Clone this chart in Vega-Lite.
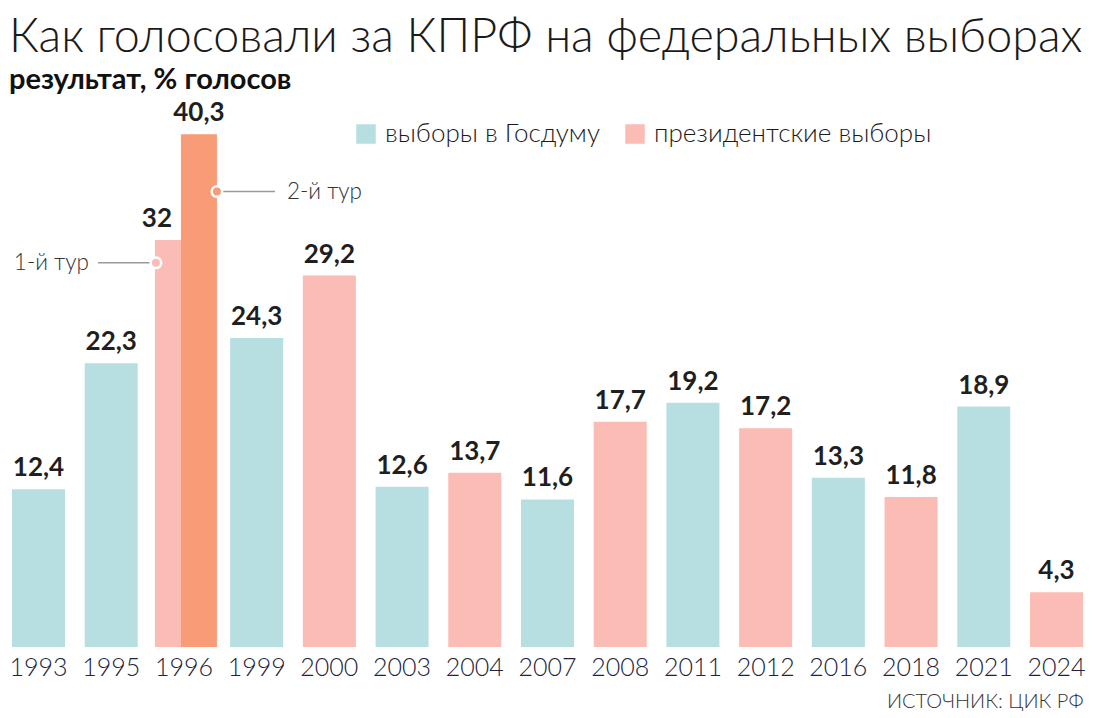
{
  "$schema": "https://vega.github.io/schema/vega-lite/v6.json",
  "autosize": {"type": "none"},
  "width": 1071,
  "height": 547,
  "padding": {"left": 12, "top": 100, "right": 11, "bottom": 71},
  "title": {
    "text": "Как голосовали за КПРФ на федеральных выборах",
    "subtitle": "результат, % голосов",
    "anchor": "start",
    "font": "Lato",
    "fontSize": 46.7,
    "fontWeight": 300,
    "color": "#1a1a1a",
    "subtitleFont": "Lato",
    "subtitleFontSize": 29,
    "subtitleFontWeight": "bold",
    "subtitleColor": "#111111",
    "offset": 5,
    "subtitlePadding": 4
  },
  "data": {
    "values": [
      {"year": "1993", "value": 12.4, "type": "выборы в Госдуму", "tur": 0},
      {"year": "1995", "value": 22.3, "type": "выборы в Госдуму", "tur": 0},
      {"year": "1996", "value": 32, "type": "президентские выборы", "tur": 1},
      {"year": "1996", "value": 40.3, "type": "президентские выборы", "tur": 2},
      {"year": "1999", "value": 24.3, "type": "выборы в Госдуму", "tur": 0},
      {"year": "2000", "value": 29.2, "type": "президентские выборы", "tur": 0},
      {"year": "2003", "value": 12.6, "type": "выборы в Госдуму", "tur": 0},
      {"year": "2004", "value": 13.7, "type": "президентские выборы", "tur": 0},
      {"year": "2007", "value": 11.6, "type": "выборы в Госдуму", "tur": 0},
      {"year": "2008", "value": 17.7, "type": "президентские выборы", "tur": 0},
      {"year": "2011", "value": 19.2, "type": "выборы в Госдуму", "tur": 0},
      {"year": "2012", "value": 17.2, "type": "президентские выборы", "tur": 0},
      {"year": "2016", "value": 13.3, "type": "выборы в Госдуму", "tur": 0},
      {"year": "2018", "value": 11.8, "type": "президентские выборы", "tur": 0},
      {"year": "2021", "value": 18.9, "type": "выборы в Госдуму", "tur": 0},
      {"year": "2024", "value": 4.3, "type": "президентские выборы", "tur": 0}
    ]
  },
  "encoding": {
    "x": {
      "field": "year",
      "type": "ordinal",
      "scale": {
        "domain": ["1993", "1995", "1996", "1999", "2000", "2003", "2004", "2007", "2008", "2011", "2012", "2016", "2018", "2021", "2024"],
        "paddingInner": 0.271,
        "paddingOuter": 0
      },
      "axis": {
        "title": "ИСТОЧНИК: ЦИК РФ",
        "titleAnchor": "end",
        "titleFont": "Lato",
        "titleFontSize": 20,
        "titleFontWeight": 300,
        "titleColor": "#333333",
        "titlePadding": 11,
        "labelAngle": 0,
        "labelFont": "Lato",
        "labelFontSize": 25,
        "labelFontWeight": 300,
        "labelColor": "#22223a",
        "labelPadding": 8,
        "domain": false,
        "ticks": false
      }
    },
    "y": {
      "field": "value",
      "type": "quantitative",
      "scale": {"domain": [0, 43]},
      "axis": null
    }
  },
  "layer": [
    {
      "transform": [{"filter": "datum.tur == 0"}],
      "mark": {"type": "bar"},
      "encoding": {
        "color": {
          "field": "type",
          "type": "nominal",
          "scale": {
            "domain": ["выборы в Госдуму", "президентские выборы"],
            "range": ["#b7dfe1", "#fbbcb5"]
          },
          "legend": {
            "title": null,
            "orient": "none",
            "direction": "horizontal",
            "legendX": 341,
            "legendY": 21,
            "padding": 0,
            "symbolType": "square",
            "symbolSize": 380,
            "symbolStrokeWidth": 0,
            "symbolOpacity": 1,
            "labelFont": "Lato",
            "labelFontSize": 26,
            "labelFontWeight": 300,
            "labelColor": "#1a1a1a",
            "labelOffset": 6,
            "labelLimit": 0,
            "columnPadding": 22
          }
        }
      }
    },
    {
      "transform": [{"filter": "datum.tur == 1"}],
      "mark": {"type": "bar", "width": 26, "xOffset": -16, "color": "#fbbcb5"}
    },
    {
      "transform": [{"filter": "datum.tur == 2"}],
      "mark": {"type": "bar", "width": 36, "xOffset": 15, "color": "#f89b77"}
    },
    {
      "transform": [{"filter": "datum.tur == 0"}],
      "mark": {"type": "text", "baseline": "bottom", "dy": -8, "font": "Lato", "fontSize": 26, "fontWeight": "bold", "color": "#1f1f1f"},
      "encoding": {"text": {"field": "value", "type": "quantitative", "format": ".1~f"}}
    },
    {
      "transform": [{"filter": "datum.tur == 1"}],
      "mark": {"type": "text", "baseline": "bottom", "dy": -8, "xOffset": -27, "font": "Lato", "fontSize": 26, "fontWeight": "bold", "color": "#1f1f1f"},
      "encoding": {"text": {"field": "value", "type": "quantitative", "format": ".1~f"}}
    },
    {
      "transform": [{"filter": "datum.tur == 2"}],
      "mark": {"type": "text", "baseline": "bottom", "dy": -8, "xOffset": 15, "font": "Lato", "fontSize": 26, "fontWeight": "bold", "color": "#1f1f1f"},
      "encoding": {"text": {"field": "value", "type": "quantitative", "format": ".1~f"}}
    },
    {
      "data": {"values": [{"year": "1996", "value": 30.2, "label": "1-й тур"}]},
      "mark": {"type": "rule", "xOffset": -86, "x2Offset": -34, "color": "#9a9a9a", "strokeWidth": 1.5},
      "encoding": {"x2": {"field": "year"}}
    },
    {
      "data": {"values": [{"year": "1996", "value": 35.8, "label": "2-й тур"}]},
      "mark": {"type": "rule", "xOffset": 38, "x2Offset": 91, "color": "#9a9a9a", "strokeWidth": 1.5},
      "encoding": {"x2": {"field": "year"}}
    },
    {
      "data": {"values": [{"year": "1996", "value": 30.2, "label": "1-й тур"}]},
      "mark": {"type": "point", "shape": "circle", "filled": true, "size": 110, "xOffset": -28, "fill": "#fbbcb5", "stroke": "#ffffff", "strokeWidth": 2.5, "opacity": 1}
    },
    {
      "data": {"values": [{"year": "1996", "value": 35.8, "label": "2-й тур"}]},
      "mark": {"type": "point", "shape": "circle", "filled": true, "size": 110, "xOffset": 33, "fill": "#f89b77", "stroke": "#ffffff", "strokeWidth": 2.5, "opacity": 1}
    },
    {
      "data": {"values": [{"year": "1996", "value": 30.2, "label": "1-й тур"}]},
      "mark": {"type": "text", "align": "right", "baseline": "middle", "xOffset": -95, "font": "Lato", "fontSize": 22.5, "fontWeight": 300, "color": "#333333"},
      "encoding": {"text": {"field": "label"}}
    },
    {
      "data": {"values": [{"year": "1996", "value": 35.8, "label": "2-й тур"}]},
      "mark": {"type": "text", "align": "left", "baseline": "middle", "xOffset": 103, "font": "Lato", "fontSize": 22.5, "fontWeight": 300, "color": "#333333"},
      "encoding": {"text": {"field": "label"}}
    }
  ],
  "config": {
    "view": {"stroke": null},
    "font": "Lato",
    "locale": {
      "number": {"decimal": ",", "thousands": " ", "grouping": [3], "currency": ["", " ₽"]}
    }
  }
}
